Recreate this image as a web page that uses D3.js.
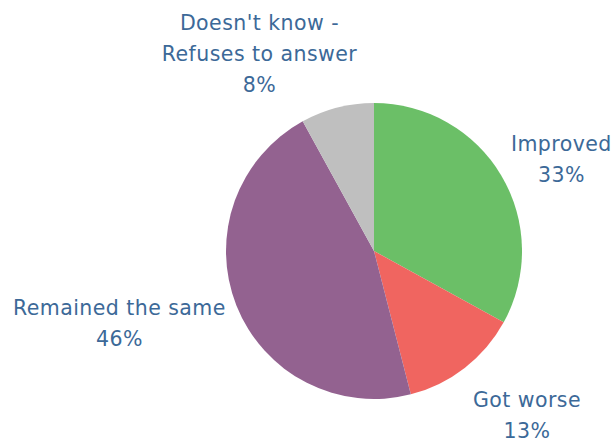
<!DOCTYPE html>
<html>
<head>
<meta charset="utf-8">
<script src="https://cdn.jsdelivr.net/npm/d3@7"></script>
<style>
  html, body { margin: 0; padding: 0; background: #ffffff; }
  svg { display: block; }
  text { font-family: "DejaVu Sans", sans-serif; font-size: 20.5px; letter-spacing: 0.45px; fill: #3c6998; }
</style>
</head>
<body>
<svg id="chart" width="613" height="438"></svg>
<script>
// Survey answers, shown as percentage shares
const categories = ["Improved", "Got worse", "Remained the same", "Doesn't know - Refuses to answer"];
const labelLines = [["Improved"], ["Got worse"], ["Remained the same"], ["Doesn't know -", "Refuses to answer"]];
const values = [33, 13, 46, 8];
const colors = ["#6bbf67", "#f06560", "#936290", "#bfbfbf"];

// Fine adjustment of each label block away from its outer-arc anchor
const labelNudge = [[9, 13], [26, 0], [-62, -4], [-63, 3]];

const width = 613, height = 438;
const cx = 374, cy = 251, radius = 148;
const lineStep = 31;

const svg = d3.select("#chart");
const g = svg.append("g").attr("transform", `translate(${cx},${cy})`);

const data = categories.map((c, i) => ({ category: c, value: values[i], lines: labelLines[i], color: colors[i], nudge: labelNudge[i] }));

const pie = d3.pie().sort(null).value(d => d.value).startAngle(0).endAngle(2 * Math.PI);
const arcs = pie(data);

const arc = d3.arc().innerRadius(0).outerRadius(radius);
const labelArc = d3.arc().innerRadius(radius * 1.4).outerRadius(radius * 1.4);

g.selectAll("path.slice")
  .data(arcs)
  .join("path")
  .attr("class", "slice")
  .attr("d", arc)
  .attr("fill", d => d.data.color);

// Labels: category lines followed by the percentage
const labels = g.selectAll("g.label")
  .data(arcs)
  .join("g")
  .attr("class", "label")
  .attr("transform", d => {
    const [x, y] = labelArc.centroid(d);
    return `translate(${x + d.data.nudge[0]},${y + d.data.nudge[1]})`;
  });

labels.each(function(d) {
  const lines = d.data.lines.concat([d3.format(".0f")(d.data.value) + "%"]);
  const n = lines.length;
  // block spans from first cap-top to last baseline; centre it on the anchor
  const capH = 15;
  const blockH = capH + (n - 1) * lineStep;
  const firstBaseline = -blockH / 2 + capH;
  d3.select(this).selectAll("text")
    .data(lines)
    .join("text")
    .attr("text-anchor", "middle")
    .attr("x", 0)
    .attr("y", (t, i) => firstBaseline + i * lineStep)
    .text(t => t);
});
</script>
</body>
</html>
